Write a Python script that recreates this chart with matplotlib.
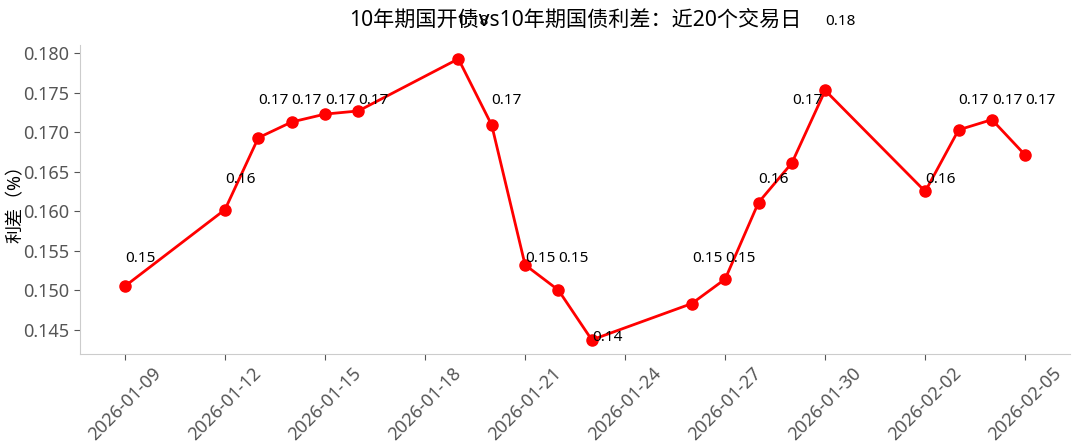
import matplotlib
matplotlib.use('Agg')
import matplotlib.pyplot as plt
import matplotlib.dates as mdates
import numpy as np
import pandas as pd

plt.rcParams['font.family'] = ['Noto Sans', 'Noto Sans CJK SC', 'DejaVu Sans']
plt.rcParams['axes.unicode_minus'] = False

dates = ['2026-01-09', '2026-01-12', '2026-01-13', '2026-01-14', '2026-01-15',
         '2026-01-16', '2026-01-19', '2026-01-20', '2026-01-21', '2026-01-22',
         '2026-01-23', '2026-01-26', '2026-01-27', '2026-01-28', '2026-01-29',
         '2026-01-30', '2026-02-02', '2026-02-03', '2026-02-04', '2026-02-05']
spread = [0.1505, 0.1602, 0.1693, 0.1713, 0.1723,
          0.1727, 0.1793, 0.1709, 0.1532, 0.1500,
          0.1437, 0.1483, 0.1514, 0.1611, 0.1661,
          0.1753, 0.1625, 0.1703, 0.1716, 0.1671]

title = '10年期国开债vs10年期国债利差：近20个交易日'
ylabel = '利差（%）'

x = pd.to_datetime(dates)
y = np.array(spread)

fig = plt.figure(figsize=(10.8, 4.48), dpi=100)
ax = fig.add_axes([0.074, 0.21, 0.917, 0.69])

ax.plot(x, y, color='red', linewidth=2, marker='o', markersize=8)

# labels sit just above the rounded value, as in the original
for xi, yi in zip(x, y):
    ax.text(xi, round(yi, 2) + 0.004, f'{yi:.2f}', ha='left', va='center',
            fontsize=11, color='black')

ax.set_title(title, fontsize=15.2, pad=14)
ax.set_ylabel(ylabel, fontsize=13)
ax.yaxis.set_label_coords(-0.056, 0.5)

ticks = pd.date_range(x[0], x[-1], freq='3D')
ax.set_xticks(ticks)
ax.xaxis.set_major_formatter(mdates.DateFormatter('%Y-%m-%d'))
plt.setp(ax.get_xticklabels(), rotation=45)

ax.tick_params(axis='both', labelsize=13, labelcolor='#555555', color='#555555', length=4)
for side in ['top', 'right']:
    ax.spines[side].set_visible(False)
for side in ['left', 'bottom']:
    ax.spines[side].set_color('#cccccc')

fig.savefig('out.png', dpi=100)
